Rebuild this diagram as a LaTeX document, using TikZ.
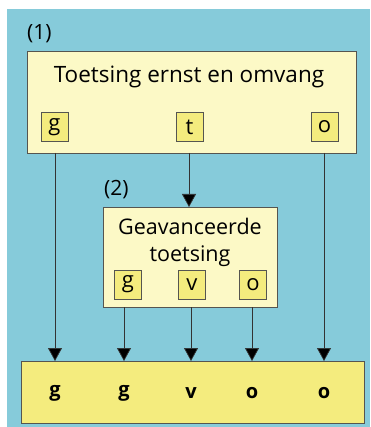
\documentclass[tikz,border=0pt]{standalone}
\usepackage{fontspec}
\setmainfont{Open Sans}
\usetikzlibrary{arrows.meta}
\definecolor{bgblue}{HTML}{86CBDA}
\definecolor{paley}{HTML}{FCF9C6}
\definecolor{ybox}{HTML}{F4EC7E}
\definecolor{edge}{HTML}{555550}
\begin{document}
\begin{tikzpicture}[x=1pt,y=-1pt,
  bigbox/.style={draw=edge,line width=0.8pt,fill=paley},
  letbox/.style={draw=edge,line width=0.7pt,fill=ybox,minimum width=27pt,minimum height=29pt,inner sep=0pt,font=\fontsize{22}{22}\selectfont},
  arr/.style={draw=black!80,line width=0.7pt,-{Triangle[length=13pt,width=14pt,fill=black]}},
  ln/.style={draw=black!80,line width=0.7pt}]
\useasboundingbox (0,0) rectangle (370,427);
\fill[white] (0,0) rectangle (370,427);
\fill[bgblue] (7,9) rectangle (370,427);
% box 1
\node[bigbox,minimum width=329pt,minimum height=102pt,anchor=north west,inner sep=0pt] (b1) at (27,51) {};
\node[anchor=west,font=\fontsize{21}{21}\selectfont,inner sep=0pt] (l1) at (27,34) {(1)};
\node[font=\fontsize{22.5}{22.5}\selectfont] (t1) at (189,77) {Toetsing ernst en omvang};
\node[letbox] (g1) at (54.5,127) {g};
\node[letbox] (t) at (189.5,127) {t};
\node[letbox] (o1) at (324.5,127) {o};
% box 2
\node[bigbox,minimum width=174pt,minimum height=100pt,anchor=north west,inner sep=0pt] (b2) at (103,207) {};
\node[anchor=west,font=\fontsize{21}{21}\selectfont,inner sep=0pt] (l2) at (104,190) {(2)};
\node[font=\fontsize{21.5}{27}\selectfont,align=center,inner sep=0pt] (t2) at (190,242) {Geavanceerde\\toetsing};
\node[letbox] (g2) at (128,284.5) {g};
\node[letbox] (v) at (192,284.5) {v};
\node[letbox] (o2) at (253,284.5) {o};
% bottom
\node[draw=edge,line width=0.8pt,fill=ybox,minimum width=343pt,minimum height=62pt,anchor=north west,inner sep=0pt] (b3) at (21,361) {};
\foreach \n/\x/\c in {r1/55/g,r2/124/g,r3/191/v,r4/252/o,r5/324/o}{
  \node[font=\fontsize{20}{20}\selectfont\bfseries] (\n) at (\x,393) {\c};
  \coordinate (\n t) at (\x,361);
}
% connectors
\coordinate (s1) at (55,153);
\coordinate (s2) at (189,153);
\coordinate (s3) at (324,153);
\coordinate (s2e) at (189,207);
\coordinate (q1) at (124,307);
\coordinate (q2) at (191,307);
\coordinate (q3) at (252,307);
\draw[arr] (s1) -- (r1t);
\draw[arr] (s2) -- (s2e);
\draw[arr] (s3) -- (r5t);
\draw[arr] (q1) -- (r2t);
\draw[arr] (q2) -- (r3t);
\draw[arr] (q3) -- (r4t);
\end{tikzpicture}
\end{document}
